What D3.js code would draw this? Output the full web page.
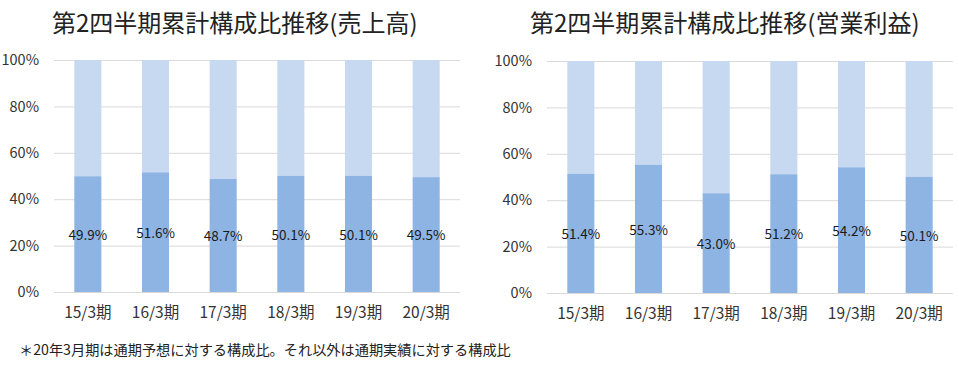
<!DOCTYPE html>
<html>
<head>
<meta charset="utf-8">
<script src="https://cdn.jsdelivr.net/npm/d3@7"></script>
<style>
  body { margin: 0; background: #fff; }
  svg text { font-family: "Noto Sans CJK JP", sans-serif; }
</style>
</head>
<body>
<svg id="chart" width="959" height="373"></svg>
<script>
// data
var periods = ["15/3期", "16/3期", "17/3期", "18/3期", "19/3期", "20/3期"];
var salesShare = [49.9, 51.6, 48.7, 50.1, 50.1, 49.5];
var profitShare = [51.4, 55.3, 43.0, 51.2, 54.2, 50.1];
var yTicks = [0, 20, 40, 60, 80, 100];
var titles = ["第2四半期累計構成比推移(売上高)", "第2四半期累計構成比推移(営業利益)"];
var footnote = "＊20年3月期は通期予想に対する構成比。それ以外は通期実績に対する構成比";

var darkBlue = "#8eb4e3",
    lightBlue = "#c6d9f1",
    gridColor = "#d9d9d9";

var svg = d3.select("#chart");

function drawPanel(opts) {
    var x = d3.scaleBand()
        .domain(periods)
        .range([opts.left, opts.right])
        .paddingInner(0.6)
        .paddingOuter(0.3);

    var y = d3.scaleLinear()
        .domain([0, 100])
        .range([opts.bottom, opts.top]);

    var g = svg.append("g");

    // title
    g.append("text")
        .attr("x", opts.titleX)
        .attr("y", 32)
        .attr("font-size", "24px")
        .attr("fill", "#222")
        .text(opts.title);

    // gridlines
    g.selectAll(".grid")
        .data(yTicks)
        .enter().append("line")
        .attr("x1", opts.left)
        .attr("x2", opts.right)
        .attr("y1", function (d) { return y(d) + 0.5; })
        .attr("y2", function (d) { return y(d) + 0.5; })
        .attr("stroke", gridColor)
        .attr("stroke-width", 1);

    // y tick labels
    g.selectAll(".ytick")
        .data(yTicks)
        .enter().append("text")
        .attr("x", opts.tickX)
        .attr("y", function (d) { return y(d); })
        .attr("dy", "0.36em")
        .attr("text-anchor", "end")
        .attr("font-size", "14.5px")
        .attr("fill", "#333")
        .text(function (d) { return d + "%"; });

    // remaining share (light, top part)
    g.selectAll(".rest")
        .data(opts.values)
        .enter().append("rect")
        .attr("x", function (d, i) { return x(periods[i]); })
        .attr("y", y(100))
        .attr("width", x.bandwidth())
        .attr("height", function (d) { return y(d) - y(100); })
        .attr("fill", lightBlue);

    // first half share (dark, bottom part)
    g.selectAll(".share")
        .data(opts.values)
        .enter().append("rect")
        .attr("x", function (d, i) { return x(periods[i]); })
        .attr("y", function (d) { return y(d); })
        .attr("width", x.bandwidth())
        .attr("height", function (d) { return y(0) - y(d); })
        .attr("fill", darkBlue);

    // value labels in the middle of the dark part
    g.selectAll(".label")
        .data(opts.values)
        .enter().append("text")
        .attr("x", function (d, i) { return x(periods[i]) + x.bandwidth() / 2; })
        .attr("y", function (d) { return y(d / 2) + 1; })
        .attr("dy", "0.36em")
        .attr("text-anchor", "middle")
        .attr("font-size", "13.5px")
        .attr("fill", "#1a1a1a")
        .text(function (d) { return d.toFixed(1) + "%"; });

    // x labels
    g.selectAll(".xtick")
        .data(periods)
        .enter().append("text")
        .attr("x", function (d) { return x(d) + x.bandwidth() / 2; })
        .attr("y", opts.bottom + 26)
        .attr("text-anchor", "middle")
        .attr("font-size", "15.5px")
        .attr("fill", "#333")
        .text(function (d) { return d; });
}

drawPanel({
    title: titles[0], titleX: 52,
    values: salesShare,
    left: 54, right: 460, top: 60, bottom: 292,
    tickX: 39
});

drawPanel({
    title: titles[1], titleX: 530,
    values: profitShare,
    left: 547, right: 953, top: 61, bottom: 293,
    tickX: 532
});

svg.append("text")
    .attr("x", 19)
    .attr("y", 355)
    .attr("font-size", "14.2px")
    .attr("fill", "#222")
    .text(footnote);
</script>
</body>
</html>
